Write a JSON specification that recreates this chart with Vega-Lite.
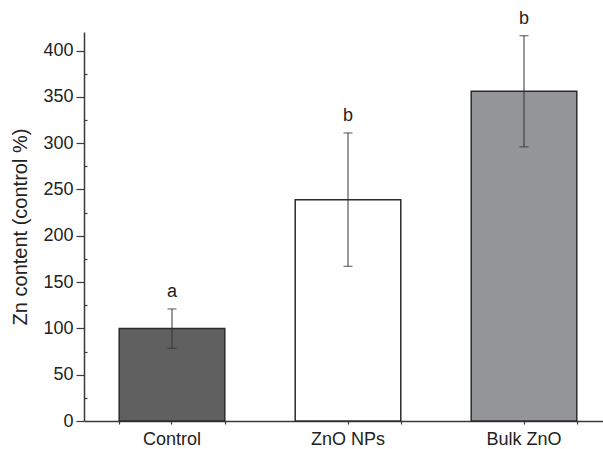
{
  "$schema": "https://vega.github.io/schema/vega-lite/v6.json",
  "width": 519,
  "height": 389,
  "autosize": {"type": "none"},
  "padding": {"left": 84, "top": 32, "right": 0, "bottom": 28},
  "background": "white",
  "config": {
    "view": {"stroke": null},
    "font": "Liberation Sans",
    "axis": {
      "domainColor": "#3a3a3a",
      "domainWidth": 1.5,
      "tickColor": "#3a3a3a",
      "tickWidth": 1.2,
      "labelColor": "#222222",
      "labelFont": "Liberation Sans",
      "labelFontSize": 18,
      "titleFont": "Liberation Sans",
      "titleFontSize": 20,
      "titleFontWeight": "normal",
      "titleColor": "#222222",
      "grid": false
    }
  },
  "data": {
    "values": [
      {"group": "Control", "mean": 100, "lo": 78.5, "hi": 121, "letter": "a"},
      {"group": "ZnO NPs", "mean": 239, "lo": 167, "hi": 311, "letter": "b"},
      {"group": "Bulk ZnO", "mean": 356, "lo": 296, "hi": 416, "letter": "b"}
    ]
  },
  "resolve": {"axis": {"x": "independent", "y": "independent"}},
  "layer": [
    {
      "mark": {"type": "bar", "stroke": "#2b2b2b", "strokeWidth": 1.5},
      "encoding": {
        "x": {
          "field": "group", "type": "nominal", "sort": null,
          "scale": {"range": [0, 528], "paddingInner": 0.4, "paddingOuter": 0.2},
          "axis": {"title": null, "labelAngle": 0, "tickSize": 3, "labelPadding": 6, "orient": "bottom"}
        },
        "y": {
          "field": "mean", "type": "quantitative",
          "scale": {"domain": [0, 420], "nice": false},
          "axis": {
            "title": "Zn content (control %)",
            "values": [0, 50, 100, 150, 200, 250, 300, 350, 400],
            "tickSize": 8, "labelPadding": 3, "titlePadding": 12, "orient": "left"
          }
        },
        "fill": {
          "field": "group", "type": "nominal",
          "scale": {"domain": ["Control", "ZnO NPs", "Bulk ZnO"], "range": ["#606060", "#ffffff", "#939598"]},
          "legend": null
        }
      }
    },
    {
      "mark": {"type": "rule", "color": "#333333", "strokeWidth": 1},
      "encoding": {
        "x": {
          "field": "group", "type": "nominal", "sort": null,
          "axis": {"title": null, "labels": false, "domain": false, "tickBand": "extent", "tickSize": 3, "orient": "bottom"}
        },
        "y": {
          "field": "lo", "type": "quantitative",
          "axis": {
            "title": null, "labels": false, "domain": false, "orient": "left",
            "values": [25, 75, 125, 175, 225, 275, 325, 375], "tickSize": -3
          }
        },
        "y2": {"field": "hi"}
      }
    },
    {
      "mark": {"type": "tick", "color": "#333333", "size": 9, "thickness": 1.2},
      "encoding": {
        "x": {"field": "group", "type": "nominal", "sort": null, "axis": null},
        "y": {"field": "lo", "type": "quantitative", "axis": null}
      }
    },
    {
      "mark": {"type": "tick", "color": "#333333", "size": 9, "thickness": 1.2},
      "encoding": {
        "x": {"field": "group", "type": "nominal", "sort": null, "axis": null},
        "y": {"field": "hi", "type": "quantitative", "axis": null}
      }
    },
    {
      "mark": {"type": "text", "dy": -12, "fontSize": 18, "color": "#222222", "font": "Liberation Sans", "baseline": "alphabetic"},
      "encoding": {
        "x": {"field": "group", "type": "nominal", "sort": null, "axis": null},
        "y": {"field": "hi", "type": "quantitative", "axis": null},
        "text": {"field": "letter"}
      }
    }
  ]
}
